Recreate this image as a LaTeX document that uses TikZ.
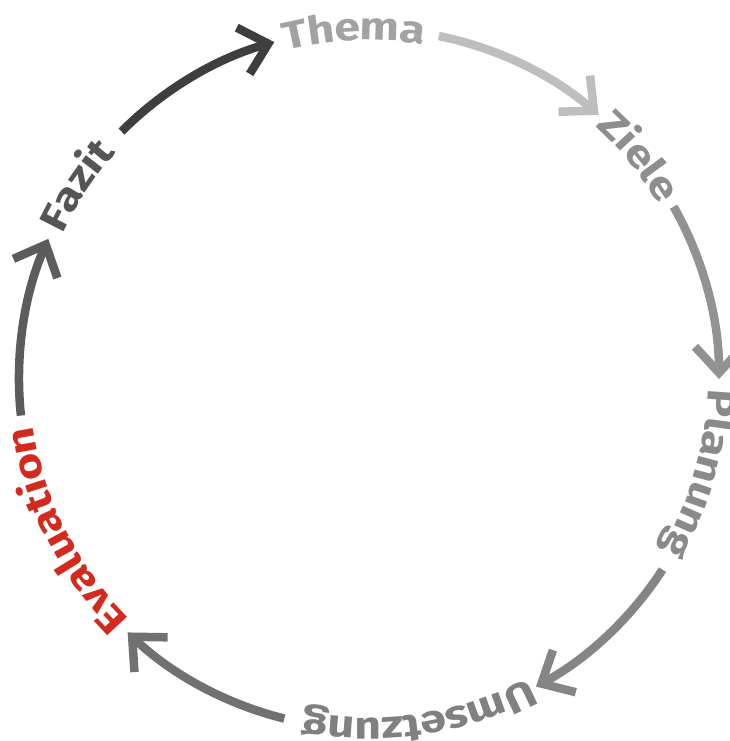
\documentclass[tikz,border=0pt]{standalone}
\usepackage{fontspec}
\newfontfamily\lblfont{Fira Sans}[FakeStretch=1.2]
\usetikzlibrary{arrows.meta,decorations.text}
\definecolor{cA}{HTML}{BEBEBE}
\definecolor{cB}{HTML}{929292}
\definecolor{cC}{HTML}{858585}
\definecolor{cD}{HTML}{717171}
\definecolor{cE}{HTML}{5C5C5C}
\definecolor{cF}{HTML}{3E3E3E}
\definecolor{tThema}{HTML}{A2A2A2}
\definecolor{tZiele}{HTML}{8E8E8E}
\definecolor{tPlan}{HTML}{8A8A8A}
\definecolor{tUms}{HTML}{808080}
\definecolor{tEval}{HTML}{D42A1E}
\definecolor{tFazit}{HTML}{555555}
\newcommand\lblfmt{\lblfont\bfseries\fontsize{39}{41}\selectfont}
\begin{document}
\begin{tikzpicture}[x=1pt,y=1pt,
  conn/.style={line width=8.5pt, line cap=butt, -{Straight Barb[length=26pt,width=48pt,line width=8.5pt]}}]
\useasboundingbox (0,0) rectangle (729,741);
\coordinate (c) at (369,362);
\def\R{350pt}
% connectors
\draw[conn, cA] ([shift={(78.5:\R)}]c) arc[start angle=78.5, end angle=49, radius=\R];
\draw[conn, cB] ([shift={(29.5:\R)}]c) arc[start angle=29.5, end angle=0, radius=\R];
\draw[conn, cC] ([shift={(-33:\R)}]c) arc[start angle=-33, end angle=-61.5, radius=\R];
\draw[conn, cD] ([shift={(-104:\R)}]c) arc[start angle=-104, end angle=-133.6, radius=\R];
\draw[conn, cE] ([shift={(186:\R)}]c) arc[start angle=186, end angle=156.4, radius=\R];
\draw[conn, cF] ([shift={(135:\R)}]c) arc[start angle=135, end angle=105.7, radius=\R];
% words
\path[decorate, decoration={text along path, text align=center, raise=-11pt, text={|\lblfmt\color{tThema}|Thema}}] ([shift={(117.5:\R)}]c) arc[start angle=117.5, end angle=67.5, radius=\R];
\path[decorate, decoration={text along path, text align=center, raise=-11pt, text={|\lblfmt\color{tZiele}|Ziele}}] ([shift={(64.5:\R)}]c) arc[start angle=64.5, end angle=14.5, radius=\R];
\path[decorate, decoration={text along path, text align=center, raise=-11pt, text={|\lblfmt\color{tPlan}|Planung}}] ([shift={(14:\R)}]c) arc[start angle=14, end angle=-46, radius=\R];
\path[decorate, decoration={text along path, text align=center, raise=-11pt, text={|\lblfmt\color{tUms}|Umsetzung}}] ([shift={(-51.5:\R)}]c) arc[start angle=-51.5, end angle=-111.5, radius=\R];
\path[decorate, decoration={text along path, text align=center, raise=-11pt, text={|\lblfmt\color{tEval}|Evaluation}}] ([shift={(236.5:\R)}]c) arc[start angle=236.5, end angle=176.5, radius=\R];
\path[decorate, decoration={text along path, text align=center, raise=-11pt, text={|\lblfmt\color{tFazit}|Fazit}}] ([shift={(171.5:\R)}]c) arc[start angle=171.5, end angle=121.5, radius=\R];
\end{tikzpicture}
\end{document}
